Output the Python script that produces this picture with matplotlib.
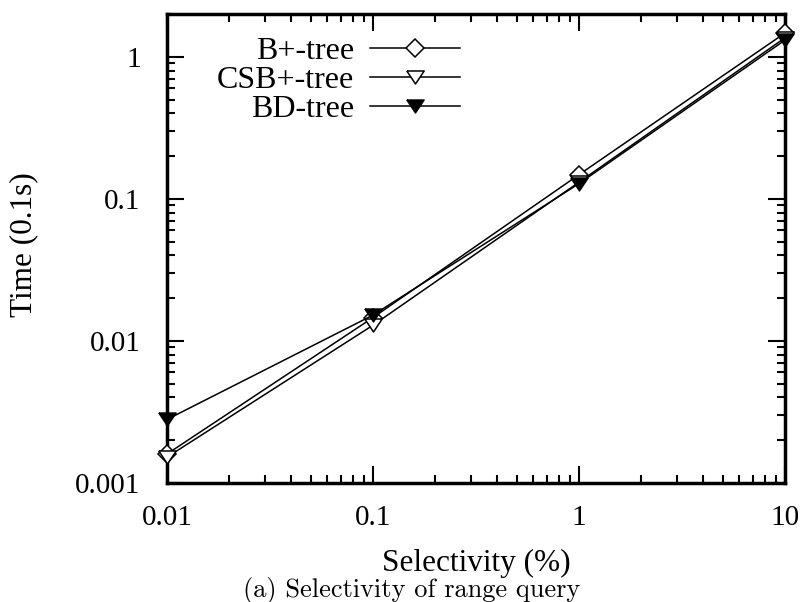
import matplotlib
matplotlib.use("Agg")
import matplotlib.pyplot as plt
from matplotlib.ticker import LogLocator, NullFormatter, FixedLocator, FixedFormatter

selectivity = [0.01, 0.1, 1, 10]
bplus = [0.0016, 0.0146, 0.148, 1.47]
csbplus = [0.00152, 0.0129, 0.131, 1.36]
bdtree = [0.0028, 0.0152, 0.128, 1.31]

xticks = [0.01, 0.1, 1, 10]
xticklabels = ["0.01", "0.1", "1", "10"]
yticks = [0.001, 0.01, 0.1, 1]
yticklabels = ["0.001", "0.01", "0.1", "1"]

serif = ["Liberation Serif", "DejaVu Serif"]
plt.rcParams['font.family'] = serif

tri_down = [(-1, 0.75), (1, 0.75), (0, -0.75), (-1, 0.75)]

fig = plt.figure(figsize=(8.05, 6.02), dpi=100)
ax = fig.add_axes([167/805, 1 - 483/602, (785-167)/805, (483-14)/602])

ax.plot(selectivity, bplus, color='black', lw=1.1, marker='D', markersize=9.5,
        markerfacecolor='white', markeredgecolor='black', markeredgewidth=1.1,
        label='B+-tree', clip_on=False, zorder=3)
ax.plot(selectivity, csbplus, color='black', lw=1.1, marker=tri_down, markersize=12.5,
        markerfacecolor='white', markeredgecolor='black', markeredgewidth=1.1,
        label='CSB+-tree', clip_on=False, zorder=3)
ax.plot(selectivity, bdtree, color='black', lw=1.1, marker=tri_down, markersize=12.5,
        markerfacecolor='black', markeredgecolor='black',
        label='BD-tree', clip_on=False, zorder=3)

ax.set_xscale('log')
ax.set_yscale('log')
ax.set_xlim(0.01, 10)
ax.set_ylim(0.001, 2.0)

ax.xaxis.set_major_locator(FixedLocator(xticks))
ax.xaxis.set_major_formatter(FixedFormatter(xticklabels))
ax.yaxis.set_major_locator(FixedLocator(yticks))
ax.yaxis.set_major_formatter(FixedFormatter(yticklabels))
ax.xaxis.set_minor_locator(LogLocator(base=10, subs=range(2, 10)))
ax.yaxis.set_minor_locator(LogLocator(base=10, subs=range(2, 10)))
ax.xaxis.set_minor_formatter(NullFormatter())
ax.yaxis.set_minor_formatter(NullFormatter())

ax.tick_params(which='both', direction='in', top=True, right=True, width=1.5)
ax.tick_params(which='major', length=12.5, labelsize=21)
ax.tick_params(axis='x', which='major', pad=16)
ax.tick_params(axis='y', which='major', pad=19)
ax.tick_params(which='minor', length=6)
for s in ax.spines.values():
    s.set_linewidth(2.5)

ax.set_xlabel('Selectivity (%)', fontsize=22.5)
ax.xaxis.set_label_coords(0.5, (483 - 563) / 469)
ax.xaxis.label.set_va('center')
ax.set_ylabel('Time (0.1s)', fontsize=22.5)
ax.yaxis.set_label_coords((24 - 167) / 618, (483 - 245) / 469)
ax.yaxis.label.set_va('center')

leg = ax.legend(loc='upper left', bbox_to_anchor=(0.045, 1.0), frameon=False,
                markerfirst=False, fontsize=23, handlelength=2.8,
                labelspacing=0.0, borderaxespad=0.3, handletextpad=0.5)
leg._legend_box.align = 'right'
for t in leg.get_texts():
    t.set_ha('right')

fig.text(412/805, 1 - 590/602, '(a) Selectivity of range query',
         ha='center', va='center', fontsize=19, family=['cmr10', 'DejaVu Serif'])

fig.savefig('out.png', dpi=100)
